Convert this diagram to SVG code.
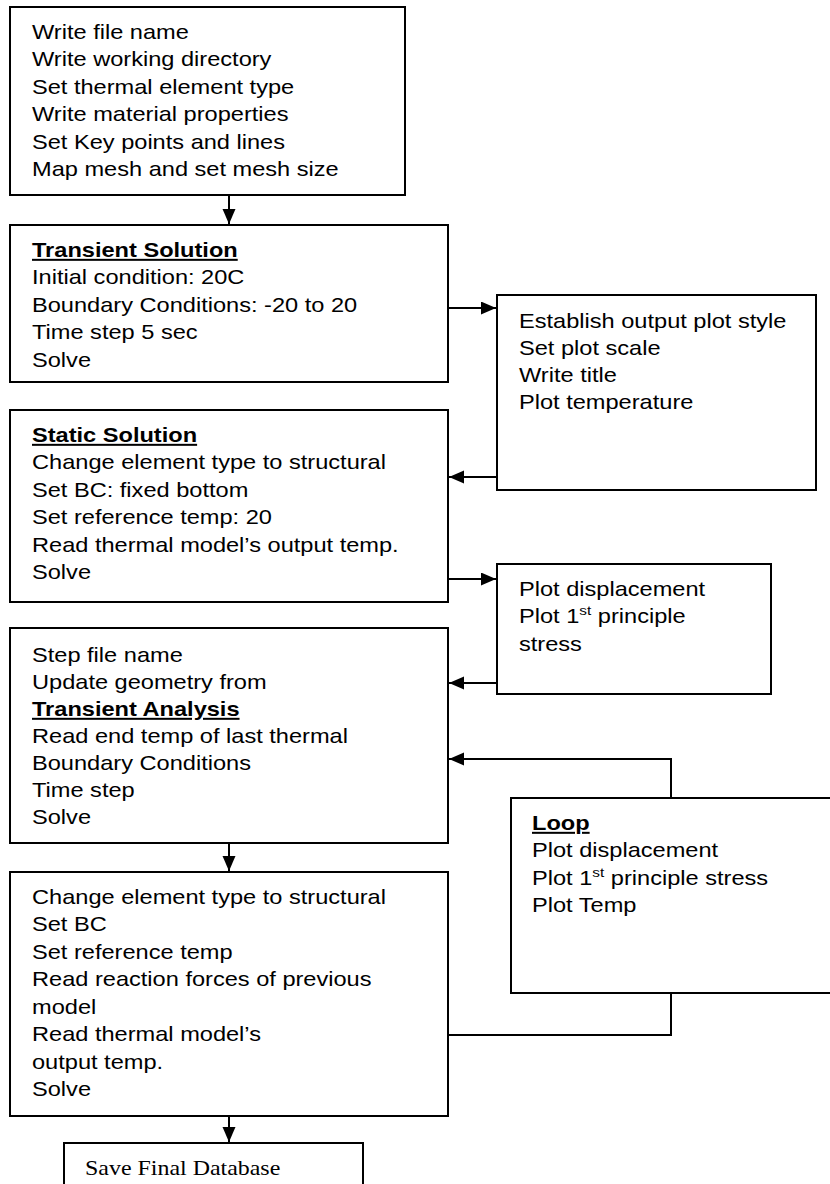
<svg xmlns="http://www.w3.org/2000/svg" width="830" height="1184" viewBox="0 0 830 1184">
<defs>
<style>
.box{fill:#fff;stroke:#000;stroke-width:2}
.ln{fill:none;stroke:#000;stroke-width:2}
.t{font-family:"Liberation Sans",Arial,sans-serif;font-size:20px;fill:#000}
.b{font-weight:bold;text-decoration:underline}
.s{font-family:"Liberation Serif","Times New Roman",serif;font-size:21px;fill:#000}
</style>
<marker id="ah" markerUnits="userSpaceOnUse" markerWidth="16" markerHeight="14" refX="15" refY="6.5" orient="auto">
<path d="M0,0 L15,6.5 L0,13 Z" fill="#000"/>
</marker>
</defs>
<g id="connectors">
<line class="ln" x1="229" y1="195" x2="229" y2="224" marker-end="url(#ah)"/>
<line class="ln" x1="448" y1="308" x2="496" y2="308" marker-end="url(#ah)"/>
<line class="ln" x1="497" y1="477" x2="449" y2="477" marker-end="url(#ah)"/>
<line class="ln" x1="448" y1="579" x2="496" y2="579" marker-end="url(#ah)"/>
<line class="ln" x1="497" y1="683" x2="449" y2="683" marker-end="url(#ah)"/>
<path class="ln" d="M671,798 L671,759 L449,759" marker-end="url(#ah)"/>
<path class="ln" d="M448,1035 L671,1035 L671,993"/>
<line class="ln" x1="229" y1="843" x2="229" y2="871" marker-end="url(#ah)"/>
<line class="ln" x1="229" y1="1116" x2="229" y2="1142" marker-end="url(#ah)"/>
</g>
<g id="n1">
<rect class="box" x="10" y="7" width="395" height="188"/>
<text class="t" transform="translate(32 39) scale(1.18 1)"><tspan x="0" y="0">Write file name</tspan><tspan x="0" y="27.5">Write working directory</tspan><tspan x="0" y="55">Set thermal element type</tspan><tspan x="0" y="82.5">Write material properties</tspan><tspan x="0" y="110">Set Key points and lines</tspan><tspan x="0" y="137.5">Map mesh and set mesh size</tspan></text>
</g>
<g id="n2">
<rect class="box" x="10" y="225" width="438" height="157"/>
<text class="t" transform="translate(32 257) scale(1.18 1)"><tspan x="0" y="0" class="b">Transient Solution</tspan><tspan x="0" y="27.5">Initial condition: 20C</tspan><tspan x="0" y="55">Boundary Conditions: -20 to 20</tspan><tspan x="0" y="82.5">Time step 5 sec</tspan><tspan x="0" y="110">Solve</tspan></text>
</g>
<g id="n3">
<rect class="box" x="497" y="295" width="319" height="195"/>
<text class="t" transform="translate(519 328) scale(1.18 1)"><tspan x="0" y="0">Establish output plot style</tspan><tspan x="0" y="27">Set plot scale</tspan><tspan x="0" y="54">Write title</tspan><tspan x="0" y="81">Plot temperature</tspan></text>
</g>
<g id="n4">
<rect class="box" x="10" y="410" width="438" height="192"/>
<text class="t" transform="translate(32 442) scale(1.18 1)"><tspan x="0" y="0" class="b">Static Solution</tspan><tspan x="0" y="27.5">Change element type to structural</tspan><tspan x="0" y="55">Set BC: fixed bottom</tspan><tspan x="0" y="82.5">Set reference temp: 20</tspan><tspan x="0" y="110">Read thermal model’s output temp.</tspan><tspan x="0" y="137.5">Solve</tspan></text>
</g>
<g id="n5">
<rect class="box" x="497" y="564" width="274" height="130"/>
<text class="t" transform="translate(519 596) scale(1.18 1)"><tspan x="0" y="0">Plot displacement</tspan><tspan x="0" y="27.5">Plot 1<tspan font-size="13" dy="-8">st</tspan><tspan dy="8"> principle</tspan></tspan><tspan x="0" y="55">stress</tspan></text>
</g>
<g id="n6">
<rect class="box" x="10" y="628" width="438" height="215"/>
<text class="t" transform="translate(32 662) scale(1.18 1)"><tspan x="0" y="0">Step file name</tspan><tspan x="0" y="27">Update geometry from</tspan><tspan x="0" y="54" class="b">Transient Analysis</tspan><tspan x="0" y="81">Read end temp of last thermal</tspan><tspan x="0" y="108">Boundary Conditions</tspan><tspan x="0" y="135">Time step</tspan><tspan x="0" y="162">Solve</tspan></text>
</g>
<g id="n7">
<rect class="box" x="511" y="798" width="330" height="195"/>
<text class="t" transform="translate(532 830) scale(1.18 1)"><tspan x="0" y="0" class="b">Loop</tspan><tspan x="0" y="27.5">Plot displacement</tspan><tspan x="0" y="55">Plot 1<tspan font-size="13" dy="-8">st</tspan><tspan dy="8"> principle stress</tspan></tspan><tspan x="0" y="82.5">Plot Temp</tspan></text>
</g>
<g id="n8">
<rect class="box" x="10" y="872" width="438" height="244"/>
<text class="t" transform="translate(32 904) scale(1.18 1)"><tspan x="0" y="0">Change element type to structural</tspan><tspan x="0" y="27.5">Set BC</tspan><tspan x="0" y="55">Set reference temp</tspan><tspan x="0" y="82.5">Read reaction forces of previous</tspan><tspan x="0" y="110">model</tspan><tspan x="0" y="137.5">Read thermal model’s</tspan><tspan x="0" y="165">output temp.</tspan><tspan x="0" y="192.5">Solve</tspan></text>
</g>
<g id="n9">
<rect class="box" x="64" y="1143" width="299" height="60"/>
<text class="s" transform="translate(85 1175) scale(1.14 1)">Save Final Database</text>
</g>
</svg>
